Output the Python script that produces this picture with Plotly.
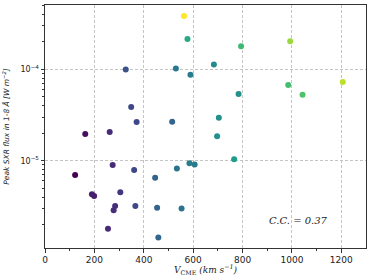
import plotly.graph_objects as go

v_cme = [327, 349, 371, 163, 262, 274, 361, 122, 446, 190, 199, 305, 284, 278, 366, 454, 255, 459,
         563, 577, 794, 684, 530, 589, 784,
         515, 704, 697, 766, 585, 606, 534, 553,
         993, 1206, 985, 1043]
peak_flux = [1.0e-4, 3.87e-5, 2.65e-5, 1.96e-5, 2.06e-5, 9.0e-6, 7.9e-6, 6.97e-6, 6.5e-6, 4.3e-6, 4.1e-6,
             4.5e-6, 3.2e-6, 2.86e-6, 3.2e-6, 3.05e-6, 1.8e-6, 1.44e-6,
             3.85e-4, 2.15e-4, 1.79e-4, 1.13e-4, 1.02e-4, 8.75e-5, 5.37e-5,
             2.67e-5, 2.96e-5, 1.85e-5, 1.04e-5, 9.4e-6, 9.1e-6, 8.2e-6, 3.0e-6,
             2.03e-4, 7.28e-5, 6.75e-5, 5.28e-5]
color_vals = [0.25, 0.22, 0.22, 0.04, 0.12, 0.12, 0.22, 0.0, 0.32, 0.08, 0.08, 0.15, 0.13, 0.13, 0.22, 0.32, 0.12, 0.33,
              1.0, 0.6, 0.68, 0.48, 0.4, 0.42, 0.5,
              0.32, 0.5, 0.5, 0.55, 0.42, 0.42, 0.38, 0.38,
              0.85, 0.9, 0.7, 0.72]
x_ticks = [0, 200, 400, 600, 800, 1000, 1200]
x_minor = [100, 300, 500, 700, 900, 1100]
y_ticks = [1e-5, 1e-4]
y_ticktext = ["10<sup>−5</sup>", "10<sup>−4</sup>"]
y_minor = [m * 10.0 ** e for e in (-6, -5, -4) for m in range(2, 10)]
cc_text = "C.C. = 0.37"
x_title = "<i>V</i><sub>CME</sub> <i>(km s<sup>−1</sup>)</i>"
y_title = "<i>Peak SXR flux in 1-8 Å [W m<sup>−2</sup>]</i>"

fig = go.Figure()
fig.add_trace(go.Scatter(
    x=v_cme, y=peak_flux, mode="markers",
    marker=dict(size=6, color=color_vals, colorscale="Viridis", cmin=0, cmax=1,
                line=dict(width=0)),
    showlegend=False, hoverinfo="skip"))

axis_common = dict(showline=True, linecolor="#333333", linewidth=1, mirror=True,
                   ticks="outside", ticklen=3.5, tickwidth=0.8, tickcolor="#333333",
                   showgrid=True, gridcolor="#c4c4c4", griddash="3px,2px", gridwidth=0.8,
                   zeroline=False, automargin=False)

fig.update_xaxes(range=[0, 1300], tickvals=x_ticks,
                 tickfont=dict(family="DejaVu Sans", size=9, color="#222222"),
                 minor=dict(ticks="outside", ticklen=2, tickcolor="#333333",
                            tickvals=x_minor, showgrid=False),
                 **axis_common)
fig.update_yaxes(type="log", range=[-5.956, -3.295], tickvals=y_ticks, ticktext=y_ticktext,
                 tickfont=dict(family="DejaVu Sans", size=8, color="#222222"),
                 minor=dict(ticks="outside", ticklen=2, tickcolor="#333333",
                            tickvals=y_minor, showgrid=False),
                 **axis_common)

fig.add_annotation(x=1027, y=-5.657, xref="x", yref="y", text="<i>" + cc_text + "</i>",
                   showarrow=False, font=dict(family="DejaVu Serif", size=10, color="#222222"))
fig.add_annotation(x=0.5, y=-0.088, xref="paper", yref="paper", text=x_title,
                   showarrow=False, yanchor="middle",
                   font=dict(family="DejaVu Serif", size=9, color="#222222"))
fig.add_annotation(x=-0.124, y=0.5, xref="paper", yref="paper", text=y_title,
                   showarrow=False, textangle=-90, xanchor="center",
                   font=dict(family="DejaVu Sans", size=7.5, color="#222222"))

fig.update_layout(width=374, height=280, margin=dict(l=45, r=8, t=5, b=32),
                  plot_bgcolor="white", paper_bgcolor="white")
fig.write_html("out.html", config={"displayModeBar": False},
               post_script="document.body.style.margin='0';")
